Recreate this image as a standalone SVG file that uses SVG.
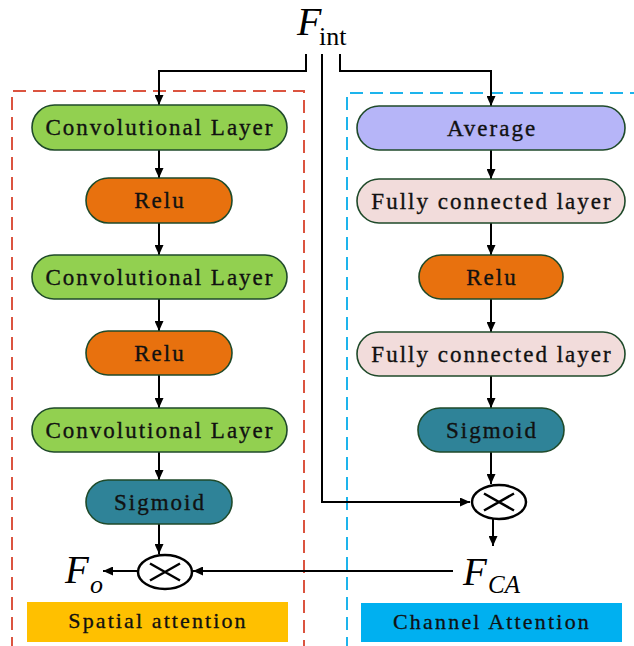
<svg xmlns="http://www.w3.org/2000/svg" width="634" height="646" viewBox="0 0 634 646">
<defs>
<style>
.box{stroke:#1f4a2a;stroke-width:1.6}
.conv{fill:#92d050}
.relu{fill:#e8710e}
.sig{fill:#2f8398}
.avg{fill:#b6b5f8}
.fc{fill:#f2dcdb}
.lbl{font-family:"Liberation Serif","Times New Roman","DejaVu Serif",serif;font-size:23px;letter-spacing:2px;fill:#111;stroke:#111;stroke-width:0.35;text-anchor:middle}
.cap{font-family:"Liberation Serif","Times New Roman","DejaVu Serif",serif;font-size:22px;fill:#111;stroke:#111;stroke-width:0.3;text-anchor:middle}
.math{font-family:"Liberation Serif","Times New Roman","DejaVu Serif",serif;fill:#000}
.ln{fill:none;stroke:#000;stroke-width:2}
.dash{fill:none;stroke-width:2;stroke-dasharray:13 7}
.otimes{fill:#fff;stroke:#000;stroke-width:2.5}
</style>
<marker id="ah" markerUnits="userSpaceOnUse" markerWidth="10" markerHeight="9" refX="10" refY="4.5" orient="auto">
<path d="M0,0 L10,4.5 L0,9 Z" fill="#000"/>
</marker>
</defs>
<rect width="634" height="646" fill="#fff"/>

<g id="regions">
<path class="dash" stroke="#db5440" d="M12,650 V91 H304 V650"/>
<path class="dash" stroke="#1db4ec" d="M347,650 V93 H640"/>
</g>

<g id="connectors">
<polyline class="ln" points="306,54 306,71 159,71 159,105" marker-end="url(#ah)"/>
<polyline class="ln" points="340,54 340,71 491,71 491,106" marker-end="url(#ah)"/>
<polyline class="ln" points="322,54 322,502 470,502" marker-end="url(#ah)"/>
<line class="ln" x1="159" y1="150" x2="159" y2="178" marker-end="url(#ah)"/>
<line class="ln" x1="159" y1="223" x2="159" y2="255" marker-end="url(#ah)"/>
<line class="ln" x1="159" y1="299" x2="159" y2="331" marker-end="url(#ah)"/>
<line class="ln" x1="159" y1="375" x2="159" y2="408" marker-end="url(#ah)"/>
<line class="ln" x1="159" y1="452" x2="159" y2="480" marker-end="url(#ah)"/>
<line class="ln" x1="159" y1="524" x2="159" y2="554" marker-end="url(#ah)"/>
<line class="ln" x1="491" y1="150" x2="491" y2="179" marker-end="url(#ah)"/>
<line class="ln" x1="491" y1="223" x2="491" y2="255" marker-end="url(#ah)"/>
<line class="ln" x1="491" y1="299" x2="491" y2="332" marker-end="url(#ah)"/>
<line class="ln" x1="491" y1="376" x2="491" y2="408" marker-end="url(#ah)"/>
<line class="ln" x1="491" y1="452" x2="491" y2="484" marker-end="url(#ah)"/>
<line class="ln" x1="493" y1="519" x2="493" y2="546" marker-end="url(#ah)"/>
<line class="ln" x1="453" y1="571" x2="193" y2="571" marker-end="url(#ah)"/>
<line class="ln" x1="137" y1="571" x2="103" y2="571" marker-end="url(#ah)"/>
</g>

<g id="F_int">
<text class="math" x="297" y="35" font-size="40" font-style="italic">F</text>
<text class="math" x="319" y="45" font-size="26">int</text>
</g>

<g id="conv1"><rect class="box conv" x="32" y="105" width="255" height="45" rx="22.5"/><text class="lbl" x="160" y="135">Convolutional Layer</text></g>
<g id="relu1"><rect class="box relu" x="86" y="178" width="146" height="45" rx="22.5"/><text class="lbl" x="160" y="208">Relu</text></g>
<g id="conv2"><rect class="box conv" x="32" y="255" width="255" height="44" rx="22"/><text class="lbl" x="160" y="284.5">Convolutional Layer</text></g>
<g id="relu2"><rect class="box relu" x="86" y="331" width="146" height="44" rx="22"/><text class="lbl" x="160" y="360.5">Relu</text></g>
<g id="conv3"><rect class="box conv" x="32" y="408" width="255" height="44" rx="22"/><text class="lbl" x="160" y="437.5">Convolutional Layer</text></g>
<g id="sigmoid1"><rect class="box sig" x="86" y="480" width="146" height="44" rx="22"/><text class="lbl" x="160" y="509.5">Sigmoid</text></g>
<g id="mult1">
<ellipse class="otimes" cx="165" cy="572" rx="27" ry="17"/>
<path d="M150,563.5 L180,580.5 M150,580.5 L180,563.5" stroke="#000" stroke-width="2.5"/>
</g>
<g id="F_o">
<text class="math" x="65" y="583" font-size="39" font-style="italic">F</text>
<text class="math" x="90" y="593" font-size="26" font-style="italic">o</text>
</g>
<g id="spatial_label"><rect x="27" y="602" width="261" height="40" fill="#ffc000"/><text class="cap" x="158" y="628" letter-spacing="2.1">Spatial attention</text></g>

<g id="average"><rect class="box avg" x="357" y="106" width="268" height="44" rx="22"/><text class="lbl" x="492" y="135.5">Average</text></g>
<g id="fc1"><rect class="box fc" x="357" y="179" width="268" height="44" rx="22"/><text class="lbl" x="492" y="208.5">Fully connected layer</text></g>
<g id="relu3"><rect class="box relu" x="419" y="255" width="144" height="44" rx="22"/><text class="lbl" x="492" y="284.5">Relu</text></g>
<g id="fc2"><rect class="box fc" x="357" y="332" width="268" height="44" rx="22"/><text class="lbl" x="492" y="361.5">Fully connected layer</text></g>
<g id="sigmoid2"><rect class="box sig" x="418" y="408" width="146" height="44" rx="22"/><text class="lbl" x="492" y="437.5">Sigmoid</text></g>
<g id="mult2">
<ellipse class="otimes" cx="499" cy="502" rx="27" ry="17"/>
<path d="M484,493.5 L514,510.5 M484,510.5 L514,493.5" stroke="#000" stroke-width="2.5"/>
</g>
<g id="F_CA">
<text class="math" x="463" y="585" font-size="39" font-style="italic">F</text>
<text class="math" x="488" y="593" font-size="25" font-style="italic">CA</text>
</g>
<g id="channel_label"><rect x="361" y="603" width="261" height="39" fill="#00b0f0"/><text class="cap" x="492" y="629" letter-spacing="2.2">Channel Attention</text></g>
</svg>
